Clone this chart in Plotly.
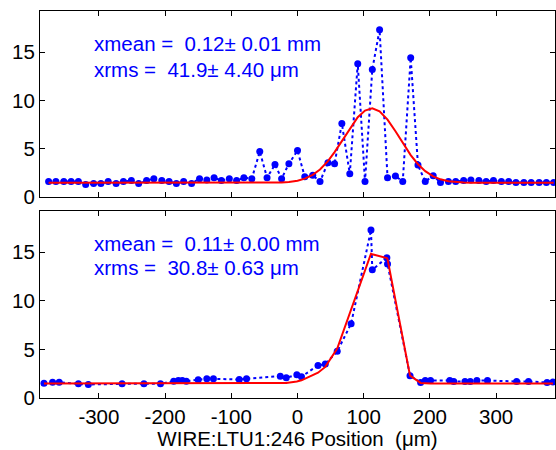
import plotly.graph_objects as go

# ---- data ----
top_x = [-376, -365, -353, -342, -331, -320, -308, -297, -286, -274, -263, -251, -240, -228,
         -217, -205, -194, -183, -172, -160, -148, -137, -126, -115, -103, -92, -81, -69,
         -57, -46, -34, -24, -13, 0, 11, 23, 34, 46, 56, 67, 79, 91, 102, 113, 124, 136,
         148, 159, 171, 182, 193, 205, 216, 228, 239, 251, 262, 274, 285, 296, 308, 319,
         330, 342, 353, 365, 376, 387]
top_y = [1.6, 1.6, 1.6, 1.6, 1.6, 1.3, 1.4, 1.4, 1.6, 1.4, 1.6, 1.7, 1.4, 1.7,
         1.9, 1.7, 1.6, 1.4, 1.6, 1.4, 1.9, 1.75, 2.0, 1.7, 1.9, 1.7, 2.0, 1.9,
         4.7, 2.0, 3.35, 1.9, 3.45, 4.8, 2.1, 2.25, 1.6, 3.55, 3.45, 7.6, 2.4, 13.8, 1.6, 13.2, 17.3, 2.0,
         2.16, 1.6, 14.4, 3.3, 1.6, 2.2, 1.5, 1.6, 1.6, 1.7, 1.75, 1.7, 1.6, 1.7, 1.6, 1.6,
         1.5, 1.5, 1.5, 1.5, 1.5, 1.5]
top_fit = [1.48, 1.48, 1.48, 1.48, 1.48, 1.48, 1.48, 1.48, 1.48, 1.48, 1.48, 1.48, 1.48, 1.48,
           1.48, 1.48, 1.48, 1.48, 1.48, 1.48, 1.48, 1.48, 1.48, 1.48, 1.48, 1.48, 1.48, 1.48,
           1.48, 1.48, 1.49, 1.51, 1.56, 1.69, 1.9, 2.29, 2.84, 3.71, 4.64, 5.81, 7.11, 8.26, 8.95, 9.17, 8.86, 8.01,
           6.81, 5.59, 4.34, 3.39, 2.67, 2.13, 1.83, 1.64, 1.55, 1.5, 1.48, 1.48, 1.48, 1.48, 1.48, 1.48,
           1.48, 1.48, 1.48, 1.48, 1.48, 1.48]

bot_x = [-383, -370, -360, -331, -316, -265, -232, -207, -187, -180, -174, -168, -150, -137,
         -127, -88, -77, -26, -17, -1, 6, 31, 42, 60, 81, 111, 113, 135, 136, 170, 186, 193,
         201, 230, 236, 253, 261, 271, 287, 331, 349, 377, 386]
bot_y = [1.53, 1.63, 1.63, 1.46, 1.39, 1.46, 1.46, 1.46, 1.73, 1.8, 1.8, 1.73, 1.87, 1.98,
         1.98, 1.9, 1.98, 2.25, 2.08, 2.39, 2.2, 3.35, 3.5, 4.8, 7.65, 17.3, 13.2, 14.45, 13.8, 2.3, 1.6, 1.8,
         1.8, 1.8, 1.7, 1.7, 1.7, 1.8, 1.8, 1.7, 1.7, 1.6, 1.65]
bot_fit = [1.5, 1.5, 1.5, 1.5, 1.5, 1.5, 1.5, 1.5, 1.5, 1.5, 1.5, 1.5, 1.5, 1.5,
           1.5, 1.5, 1.5, 1.52, 1.55, 1.7, 1.82, 2.6, 3.2, 5.1, 9.1, 14.85, 14.8, 14.4, 14.3, 2.3, 1.55, 1.52,
           1.5, 1.5, 1.5, 1.5, 1.5, 1.5, 1.5, 1.5, 1.5, 1.5, 1.5]

x_ticks = [-300, -200, -100, 0, 100, 200, 300]
x_tick_labels = ["-300", "-200", "-100", "0", "100", "200", "300"]
y_ticks = [0, 5, 10, 15]
y_tick_labels = ["0", "5", "10", "15"]

top_text = ["xmean =\u00a0 0.12\u00b1 0.01 mm", "xrms =\u00a0 41.9\u00b1 4.40 \u03bcm"]
bot_text = ["xmean =\u00a0 0.11\u00b1 0.00 mm", "xrms =\u00a0 30.8\u00b1 0.63 \u03bcm"]
x_title = "WIRE:LTU1:246 Position\u00a0 (\u03bcm)"

BLUE = "#0000FF"
RED = "#FF0000"
FONT = "Liberation Sans, Arial, sans-serif"
FS = 20.5

fig = go.Figure()

for xs, ys, fit, xa, ya in [(top_x, top_y, top_fit, "x", "y"), (bot_x, bot_y, bot_fit, "x2", "y2")]:
    fig.add_trace(go.Scatter(x=xs, y=ys, mode="lines+markers", xaxis=xa, yaxis=ya,
                             line=dict(color=BLUE, width=2, dash="dot"),
                             marker=dict(color=BLUE, size=7), showlegend=False))
    fig.add_trace(go.Scatter(x=xs, y=fit, mode="lines", xaxis=xa, yaxis=ya,
                             line=dict(color=RED, width=2), showlegend=False))

xr = [-389, 389]
yr = [0, 19.25]
common_x = dict(range=xr, tickvals=x_ticks, ticktext=x_tick_labels, ticks="inside", ticklen=5,
                tickcolor="black", showline=True, linecolor="black", linewidth=1, mirror="ticks",
                showgrid=False, zeroline=False, tickfont=dict(size=FS, color="black", family=FONT))
common_y = dict(range=yr, tickvals=y_ticks, ticktext=y_tick_labels, ticks="inside", ticklen=5,
                tickcolor="black", showline=True, linecolor="black", linewidth=1, mirror="ticks",
                showgrid=False, zeroline=False, tickfont=dict(size=FS, color="black", family=FONT))

fig.update_layout(
    width=556, height=450,
    margin=dict(l=40, r=1, t=11, b=52),
    paper_bgcolor="white", plot_bgcolor="white",
    font=dict(family=FONT, size=FS, color="black"),
    xaxis=dict(common_x, domain=[0, 1], anchor="y", showticklabels=False),
    yaxis=dict(common_y, domain=[0.5194, 1.0], anchor="x"),
    xaxis2=dict(common_x, domain=[0, 1], anchor="y2",
                title=dict(text=x_title, font=dict(size=FS, family=FONT, color="black"), standoff=2)),
    yaxis2=dict(common_y, domain=[0.0, 0.4832], anchor="x2"),
)

annotations = []
for texts, xa, ya, ys in [(top_text, "x", "y", [15.9, 13.2]), (bot_text, "x2", "y2", [15.95, 13.4])]:
    for t, yv in zip(texts, ys):
        annotations.append(dict(x=-311, y=yv, xref=xa, yref=ya, text=t, showarrow=False,
                                xanchor="left", yanchor="middle",
                                font=dict(size=FS, color=BLUE, family=FONT)))
fig.update_layout(annotations=annotations)

fig.write_html("out.html")
